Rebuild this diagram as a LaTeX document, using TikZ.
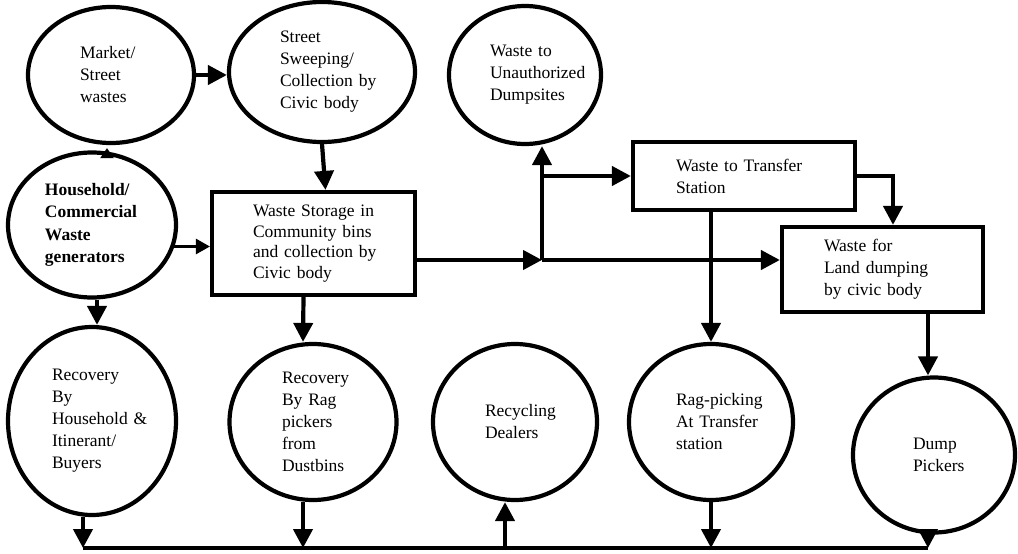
\documentclass[tikz,border=0pt]{standalone}
\usepackage{fontspec}
\setmainfont{Liberation Serif}
\usetikzlibrary{arrows.meta,shapes.geometric,calc}
\newcommand{\tline}[1]{\mbox{#1}}
\tikzset{
  base/.style={draw=black, line width=4.2pt, font=\fontsize{17.5}{22}\selectfont, align=left, inner sep=0pt},
  oval/.style={base, ellipse},
  boxn/.style={base, rectangle},
  arr/.style={line width=4.2pt, -{Triangle[length=19pt,width=19pt]}},
  thinarr/.style={line width=2.8pt, -{Triangle[length=14pt,width=15pt]}},
  tinyarr/.style={line width=2pt, -{Triangle[length=10pt,width=13pt]}},
  conn/.style={line width=4.2pt}
}
\begin{document}
\begin{tikzpicture}[x=1pt,y=-1pt]
\useasboundingbox (0,0) rectangle (1018,554);
% ellipses
\node[oval, minimum width=166pt, minimum height=136pt, text width=62pt] (mk) at (111,75) {\tline{Market/}\\\tline{Street}\\\tline{wastes}};
\node[oval, minimum width=186pt, minimum height=140pt, text width=84pt] (ss) at (322,72) {\tline{Street}\\\tline{Sweeping/}\\\tline{Collection by}\\\tline{Civic body}};
\node[oval, minimum width=152pt, minimum height=138pt, text width=70pt] (ua) at (525,75) {\tline{Waste to}\\\tline{Unauthorized}\\\tline{Dumpsites}};
\node[oval, minimum width=168pt, minimum height=145pt, text width=94pt, font=\fontsize{17.5}{22.5}\selectfont\bfseries] (hh) at (92,225) {\tline{Household/}\\\tline{Commercial}\\\tline{Waste}\\\tline{generators}};
\node[oval, minimum width=168pt, minimum height=188pt, text width=80pt] (rh) at (92,421) {\tline{Recovery}\\\tline{By}\\\tline{Household \&}\\\tline{Itinerant/}\\\tline{Buyers}};
\node[oval, minimum width=167pt, minimum height=156pt, text width=62pt] (rr) at (313,422) {\tline{Recovery}\\\tline{By Rag}\\\tline{pickers}\\\tline{from}\\\tline{Dustbins}};
\node[oval, minimum width=164pt, minimum height=156pt, text width=60pt] (rd) at (515,422) {\tline{Recycling}\\\tline{Dealers}};
\node[oval, minimum width=164pt, minimum height=156pt, text width=70pt] (rp) at (711,422) {\tline{Rag-picking}\\\tline{At Transfer}\\\tline{station}};
\node[oval, minimum width=162pt, minimum height=155pt, text width=42pt] (dp) at (934,455) {\tline{Dump}\\\tline{Pickers}};
% boxes
\node[boxn, minimum width=203pt, minimum height=103pt, text width=121pt, font=\fontsize{17.5}{20.5}\selectfont] (ws) at (313.5,243.5) {\tline{Waste Storage in}\\\tline{Community bins}\\\tline{and collection by}\\\tline{Civic body}};
\node[boxn, minimum width=222pt, minimum height=68pt, text width=136pt] (ts) at (744,176) {\tline{Waste to Transfer}\\\tline{Station}};
\node[boxn, minimum width=201pt, minimum height=85pt, text width=117pt] (ld) at (882.5,269.5) {\tline{Waste for}\\\tline{Land dumping}\\\tline{by civic body}};
% junctions
\coordinate (j) at (542,260);
\coordinate (bl) at (83,548);
\coordinate (br) at (928,548);
% connectors
\draw[arr] (mk.east) -- (mk.east -| ss.west);
\draw[tinyarr] ([xshift=15pt,yshift=-6pt]hh.north) -- ([xshift=15pt,yshift=-3pt]hh.north |- mk.south);
\draw[arr] (ss.south) -- ([xshift=12pt]ws.north);
\draw[thinarr] ($(hh.east |- ws.west)+(-4,3)$) -- ($(ws.west)+(0,3)$);
\draw[arr] (ws.east |- j) -- (j);
\draw[arr] (j) -- (ld.west |- j);
\draw[arr] (j) -- (j |- ua.south);
\draw[arr] (j |- ts.west) -- (ts.west);
\draw[arr] (ts.east) -| ([xshift=10.5pt]ld.north);
\draw[arr] (rp.north |- ts.south) -- (rp.north);
\draw[arr] ([xshift=-6pt]dp.north |- ld.south) -- ([xshift=-6pt]dp.north);
\draw[arr] ([xshift=5pt]hh.south) -- ([xshift=5pt]rh.north);
\draw[arr] ([xshift=-10pt]ws.south) -- ([xshift=-10pt]rr.north);
\draw[conn] (bl) -- (br);
\draw[arr] ([xshift=-9pt]rh.south) -- ([xshift=-9pt]rh.south |- bl);
\draw[arr] ([xshift=-10pt]rr.south) -- ([xshift=-10pt]rr.south |- bl);
\draw[arr] ([xshift=-10pt]rd.south |- bl) -- ([xshift=-10pt]rd.south);
\draw[arr] (rp.south) -- (rp.south |- bl);
\draw[arr] ([xshift=-6pt]dp.south) -- (br);
\end{tikzpicture}
\end{document}
